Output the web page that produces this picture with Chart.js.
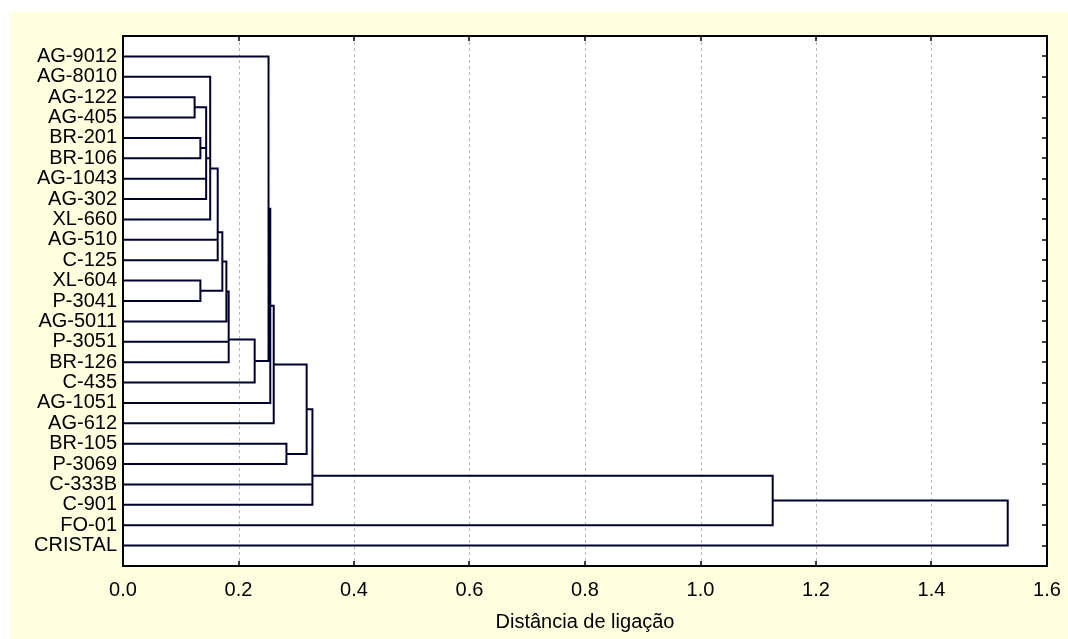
<!DOCTYPE html>
<html><head><meta charset="utf-8">
<script src="https://cdn.jsdelivr.net/npm/chart.js@4.4.0/dist/chart.umd.min.js"></script>
<style>html,body{margin:0;padding:0;background:#fff;}#wrap{width:1068px;height:639px;position:relative;}</style>
</head><body><div id="wrap"><canvas id="c" width="1068" height="639"></canvas></div>
<script>
// Leaf order (top to bottom)
const leaves = ["AG-9012","AG-8010","AG-122","AG-405","BR-201","BR-106","AG-1043","AG-302","XL-660","AG-510","C-125","XL-604","P-3041","AG-5011","P-3051","BR-126","C-435","AG-1051","AG-612","BR-105","P-3069","C-333B","C-901","FO-01","CRISTAL"];
// Merges: left member, right member ("#n" = cluster formed by merge n), linkage distance
const mergeA = ["AG-122","BR-201","#0","AG-1043","#2","AG-8010","#5","#6","#7","XL-604","#8","#10","#11","#12","#13","AG-9012","#15","#16","BR-105","#17","#19","#20","#21","#22"];
const mergeB = ["AG-405","BR-106","#1","AG-302","#3","#4","XL-660","AG-510","C-125","P-3041","#9","AG-5011","P-3051","BR-126","C-435","#14","AG-1051","AG-612","P-3069","#18","C-333B","C-901","FO-01","CRISTAL"];
const mergeDist = [0.124,0.134,0.144,0.144,0.144,0.151,0.151,0.164,0.164,0.134,0.172,0.179,0.183,0.183,0.228,0.252,0.255,0.261,0.283,0.318,0.328,0.328,1.125,1.532];
const xTicks = [0,0.2,0.4,0.6,0.8,1.0,1.2,1.4,1.6];
const xTitle = "Distância de ligação";

// Build dendrogram path in data space
const clusterPos = [], clusterH = [];
function info(m){
  if (m[0] === '#') { const k = +m.slice(1); return {p: clusterPos[k], h: clusterH[k]}; }
  return {p: leaves.indexOf(m), h: 0};
}
const pts = [];
for (let i = 0; i < mergeDist.length; i++) {
  const a = info(mergeA[i]), b = info(mergeB[i]), d = mergeDist[i];
  pts.push({x:a.h,y:a.p},{x:d,y:a.p},{x:d,y:b.p},{x:b.h,y:b.p},{x:null,y:null});
  clusterPos[i] = (a.p + b.p)/2; clusterH[i] = d;
}
const FONT = "'Liberation Sans', Arial, sans-serif";
const LINE = '#00002e';

const decor = {
  id:'decor',
  beforeDraw(chart){
    const {ctx, chartArea:a} = chart;
    ctx.save();
    ctx.fillStyle = '#ffffff';
    ctx.fillRect(0,0,chart.width,chart.height);
    ctx.fillStyle = '#ffffe0';
    ctx.fillRect(9,12,chart.width-9,chart.height-12);
    ctx.fillStyle = '#ffffff';
    ctx.fillRect(a.left,a.top,a.right-a.left,a.bottom-a.top);
    // dotted vertical gridlines
    const xs = chart.scales.x;
    ctx.strokeStyle = '#b8b8b8'; ctx.lineWidth = 1; ctx.setLineDash([3,3]);
    xTicks.forEach(v => {
      if (v <= 0 || v >= 1.6) return;
      const px = Math.round(xs.getPixelForValue(v)) + 0.5;
      ctx.beginPath(); ctx.moveTo(px,a.top); ctx.lineTo(px,a.bottom); ctx.stroke();
    });
    ctx.restore();
  },
  afterDraw(chart){
    const {ctx, chartArea:a} = chart;
    const xs = chart.scales.x, ys = chart.scales.y;
    ctx.save();
    ctx.strokeStyle = '#000'; ctx.lineWidth = 2; ctx.setLineDash([]);
    ctx.strokeRect(a.left,a.top,a.right-a.left,a.bottom-a.top);
    ctx.lineWidth = 1.5;
    xTicks.forEach(v => {
      const px = Math.round(xs.getPixelForValue(v));
      ctx.beginPath(); ctx.moveTo(px,a.bottom); ctx.lineTo(px,a.bottom-5);
      ctx.moveTo(px,a.top); ctx.lineTo(px,a.top+5); ctx.stroke();
    });
    leaves.forEach((n,i) => {
      const py = Math.round(ys.getPixelForValue(i));
      ctx.beginPath(); ctx.moveTo(a.right,py); ctx.lineTo(a.right-5,py); ctx.stroke();
    });
    ctx.restore();
  }
};

new Chart(document.getElementById('c'), {
  type:'scatter',
  data:{datasets:[{data:pts, showLine:true, spanGaps:false, borderColor:LINE, borderWidth:2, pointRadius:0, pointHoverRadius:0, tension:0, fill:false}]},
  options:{
    responsive:false, animation:false, devicePixelRatio:1,
    layout:{padding:{top:36,right:21,left:0,bottom:0}},
    plugins:{legend:{display:false}, tooltip:{enabled:false}},
    scales:{
      x:{type:'linear', min:0, max:1.6,
        afterBuildTicks(s){ s.ticks = xTicks.map(v=>({value:v})); },
        afterFit(s){ s.height = 73; s.paddingLeft = 0; s.paddingRight = 0; },
        grid:{display:false, drawTicks:false}, border:{display:false},
        ticks:{padding:12, color:'#000', font:{family:FONT,size:20}, callback:v=>Number(v).toFixed(1), maxRotation:0, autoSkip:false},
        title:{display:true, text:xTitle, color:'#000', font:{family:FONT,size:20}, padding:{top:0,bottom:5}}
      },
      y:{type:'linear', reverse:true, min:-1, max:25,
        afterBuildTicks(s){ s.ticks = leaves.map((_,i)=>({value:i})); },
        afterFit(s){ s.width = 123; s.paddingTop = 0; s.paddingBottom = 0; },
        grid:{display:false, drawTicks:false}, border:{display:false},
        ticks:{padding:6, color:'#000', font:{family:FONT,size:20}, autoSkip:false, callback:v=>leaves[v]}
      }
    }
  },
  plugins:[decor]
});
</script></body></html>
